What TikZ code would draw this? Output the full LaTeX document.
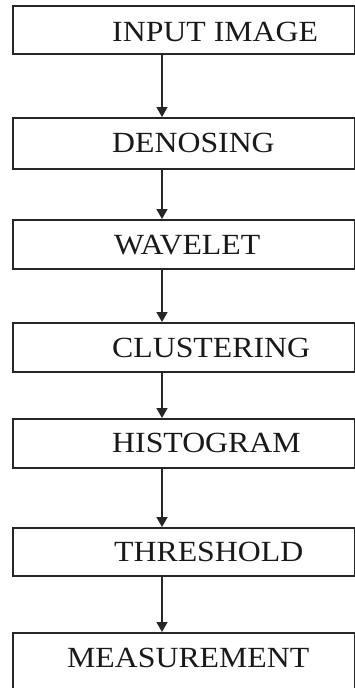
\documentclass[tikz,border=0pt]{standalone}
\usepackage{fontspec}
\setmainfont{Liberation Serif}
\usetikzlibrary{arrows.meta}
\begin{document}
\begin{tikzpicture}[x=1pt,y=-1pt,
  box/.style={draw=black!85,line width=1.5pt,rectangle,minimum width=342pt,inner sep=0pt,anchor=north west},
  lbl/.style={inner sep=0pt,anchor=west,font=\fontsize{31.8}{34}\selectfont,text=black!90},
  arr/.style={draw=black!85,line width=1.5pt,-{Triangle[length=10pt,width=11pt]}}]
\useasboundingbox (0,0) rectangle (355,688);
\clip (0,0) rectangle (355,688);
\node[box,minimum height=48pt] (b1) at (12,5) {};
\node[box,minimum height=51pt] (b2) at (12,117) {};
\node[box,minimum height=49pt] (b3) at (12,219) {};
\node[box,minimum height=49pt] (b4) at (12,322) {};
\node[box,minimum height=49pt] (b5) at (12,418) {};
\node[box,minimum height=48pt] (b6) at (12,527) {};
\node[box,minimum height=80pt] (b7) at (12,632) {};
\node[lbl] (t1) at (112,32) {\scalebox{1}[0.92]{INPUT IMAGE}};
\node[lbl] (t2) at (112,143) {\scalebox{1}[0.92]{DENOSING}};
\node[lbl] (t3) at (114,245) {\scalebox{1}[0.92]{WAVELET}};
\node[lbl] (t4) at (112,348) {\scalebox{1}[0.92]{CLUSTERING}};
\node[lbl] (t5) at (112,443) {\scalebox{1}[0.92]{HISTOGRAM}};
\node[lbl] (t6) at (114,552) {\scalebox{1}[0.92]{THRESHOLD}};
\node[lbl] (t7) at (67,658) {\scalebox{1}[0.92]{MEASUREMENT}};
\foreach \a/\b in {b1/b2,b2/b3,b3/b4,b4/b5,b5/b6,b6/b7}
  \draw[arr] ([xshift=150pt]\a.south west) -- ([xshift=150pt]\b.north west);
\end{tikzpicture}
\end{document}
